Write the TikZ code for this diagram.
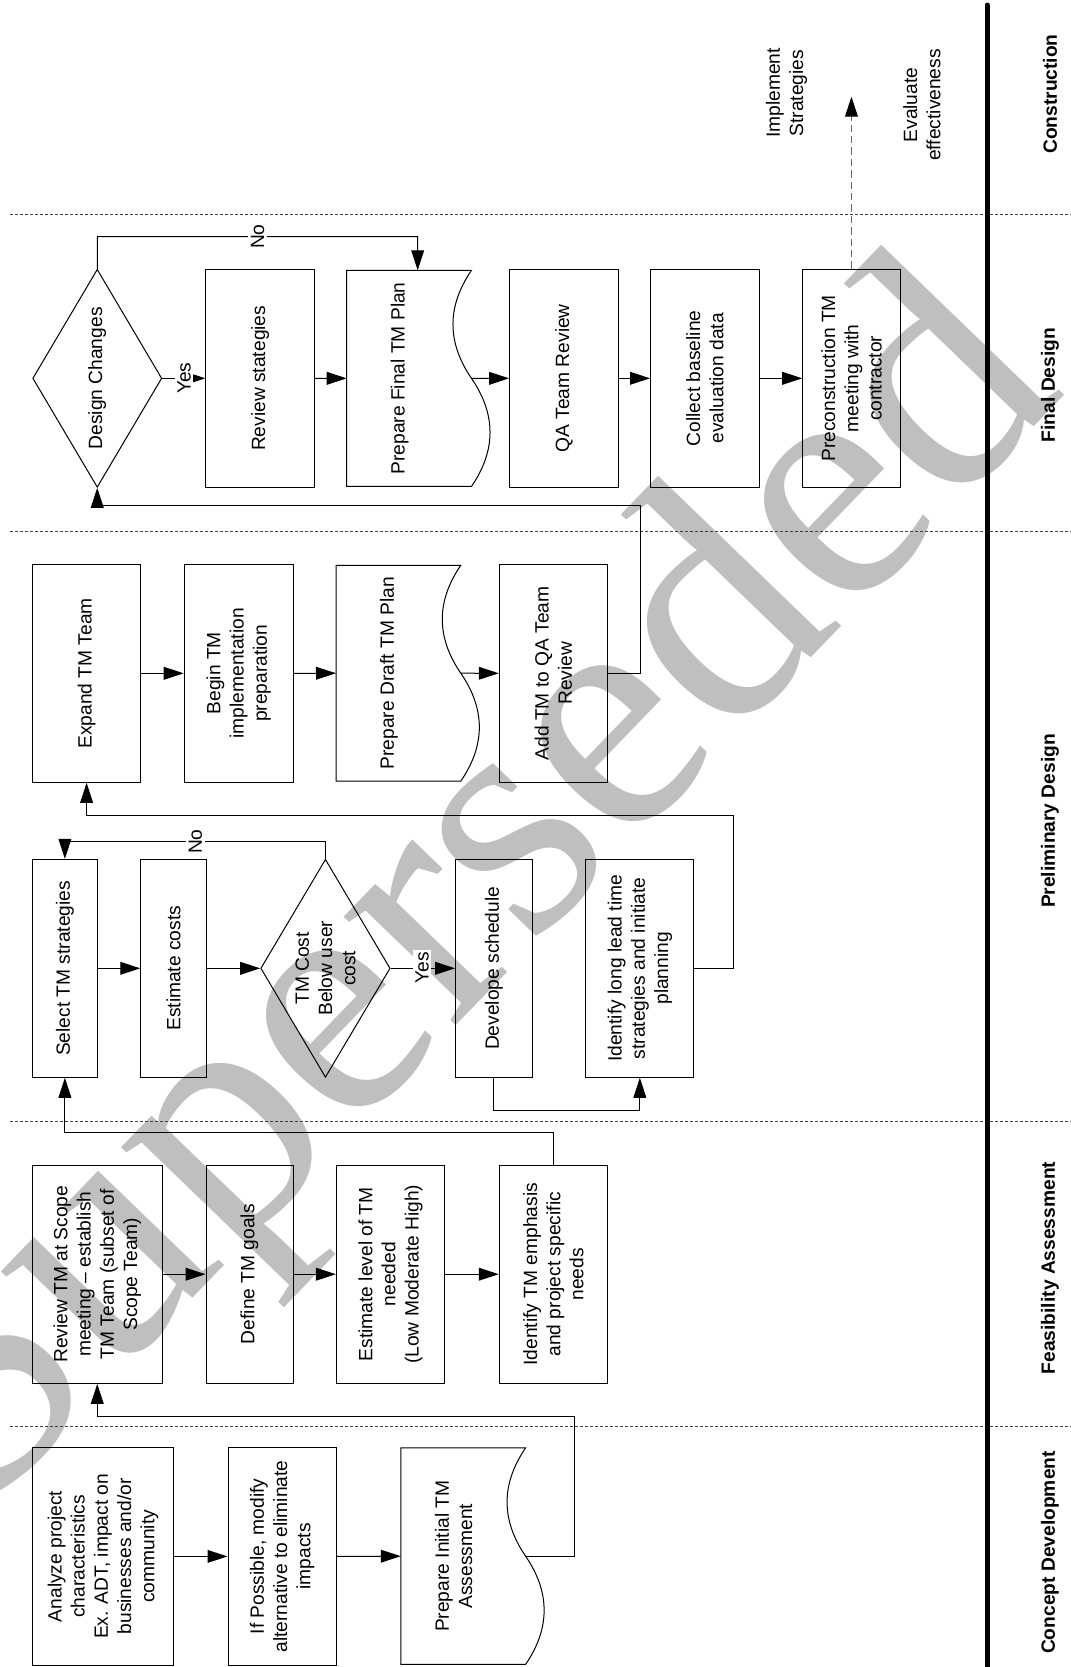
\documentclass[tikz,border=0pt]{standalone}
\usepackage{fontspec}
\setmainfont{Liberation Sans}
\newfontfamily\wmfont{Liberation Serif}
\usetikzlibrary{shapes.geometric,arrows.meta,calc}
\newcommand\docoutline[1]{%
  \draw[boxline] (#1.north west) -- (#1.north east) -- ($(#1.south east)+(19,0)$)
    .. controls ($(#1.south east)!0.1667!(#1.south west)+(-5.7,0)$) and ($(#1.south east)!0.3333!(#1.south west)+(-5.7,0)$)
    .. ($(#1.south east)!0.5!(#1.south west)+(19,0)$)
    .. controls ($(#1.south east)!0.6667!(#1.south west)+(43.7,0)$) and ($(#1.south east)!0.8333!(#1.south west)+(43.7,0)$)
    .. ($(#1.south west)+(19,0)$) -- cycle;}
\begin{document}
\begin{tikzpicture}[x=0.5pt,y=-0.5pt,
  every node/.style={font=\fontsize{9.6}{11.6}\selectfont},
  boxline/.style={draw=black, line width=0.5pt},
  sz/.style 2 args={minimum height={(#1)*0.5pt}, minimum width={(#2)*0.5pt}},
  box/.style={boxline, rectangle, rotate=90, inner sep=0pt, align=center},
  docbox/.style={rectangle, rotate=90, inner sep=0pt, align=center},
  dec/.style={boxline, diamond, rotate=90, inner sep=0pt, shape aspect=1.69, align=center},
  lbl/.style={fill=white, rotate=90, inner sep=1.2pt},
  free/.style={rotate=90, align=center, inner sep=0pt},
  phase/.style={rotate=90, font=\fontsize{9.6}{11.6}\selectfont\bfseries, inner sep=0pt},
  arr/.style={line width=0.5pt, -{Triangle[length=10pt,width=6.4pt]}},
  darr/.style={line width=0.6pt, draw=black!60, dash pattern=on 3.7pt off 2pt, -{Triangle[length=10pt,width=6.4pt,black]}},
  sep/.style={line width=0.5pt, draw=black!75, dash pattern=on 1.5pt off 1pt}
]
\useasboundingbox (0,0) rectangle (1071,1667);
\begin{scope}
\clip (0,0) rectangle (1071,1667);
\node[rotate=46, anchor=base east, text=black!25, inner sep=0pt,
  font=\wmfont\fontsize{170}{170}\selectfont] (wm) at (1068,392) {Superseded};
\end{scope}

% phase separators and axis
\coordinate (s1a) at (10,214.3);  \coordinate (s1b) at (1071,214.3);
\coordinate (s2a) at (10,531.7);  \coordinate (s2b) at (1071,531.7);
\coordinate (s3a) at (10,1121);   \coordinate (s3b) at (1071,1121);
\coordinate (s4a) at (10,1426.7); \coordinate (s4b) at (1071,1426.7);
\draw[sep] (s1a) -- (s1b);
\draw[sep] (s2a) -- (s2b);
\draw[sep] (s3a) -- (s3b);
\draw[sep] (s4a) -- (s4b);
\coordinate (axt) at (987,5); \coordinate (axb) at (987,1672);
\draw[line width=2.5pt, line cap=round] (axt) -- (axb);

% phase labels
\node[phase] (ph1) at (1050,94) {Construction};
\node[phase] (ph2) at (1050,385) {Final Design};
\node[phase] (ph3) at (1050,821) {Preliminary Design};
\node[phase] (ph4) at (1050,1268) {Feasibility Assessment};
\node[phase] (ph5) at (1050,1552.5) {Concept Development};

% Final design row
\node[dec, sz={129.1}{218}] (dm1) at (97.25,378.3) {Design Changes};
\node[box, sz={108.5}{218}] (rs) at (260.15,378.3) {Review stategies};
\node[docbox, sz={105}{215.3}] (pf) at (399.6,378.35) {Prepare Final TM Plan};
\docoutline{pf}
\node[box, sz={108.9}{218}] (qa) at (564.05,378.3) {QA Team Review};
\node[box, sz={108.8}{218}] (cb) at (704.9,378.3) {Collect baseline\\evaluation data};
\node[box, sz={97.5}{218}] (pc) at (851.45,378.3) {Preconstruction TM\\meeting with\\contractor};

% Construction texts
\node[free] (imp) at (786.5,93) {Implement\\Strategies};
\node[free] (eva) at (921.8,105) {Evaluate\\effectiveness};

% Preliminary upper row
\node[box, sz={107.8}{218}] (ex) at (86.6,673.3) {Expand TM Team};
\node[box, sz={108.8}{218}] (bg) at (238.6,673.3) {Begin TM\\implementation\\preparation};
\node[docbox, sz={105}{215}] (pd) at (388.9,673.2) {Prepare Draft TM Plan};
\docoutline{pd}
\node[box, sz={108.2}{218}] (aq) at (553.4,673.3) {Add TM to QA Team\\Review};

% Preliminary lower row
\node[box, sz={65.8}{218}] (sel) at (64.9,968.3) {Select TM strategies};
\node[box, sz={65.5}{218}] (ec) at (173.55,968.3) {Estimate costs};
\node[dec, sz={129.5}{218}] (dm2) at (325.45,968.3) {TM Cost\\Below user\\cost};
\node[box, sz={76.4}{218}] (ds) at (493.8,968.3) {Develope schedule};
\node[box, sz={108.1}{218}] (il) at (639.85,968.3) {Identify long lead time\\strategies and initiate\\planning};

% Feasibility row
\node[box, sz={130.5}{218.3}] (rv) at (97.25,1274.2) {Review TM at Scope\\meeting -- establish\\TM Team (subset of\\Scope Team)};
\node[box, sz={87}{218.3}] (dg) at (249.5,1274.2) {Define TM goals};
\node[box, sz={108.2}{218.3}] (el) at (390.5,1274.2) {Estimate level of TM\\needed\\(Low Moderate High)};
\node[box, sz={108.2}{218.3}] (ie) at (553.4,1274.2) {Identify TM emphasis\\and project specific\\needs};

% Concept row
\node[box, sz={140.5}{217.3}] (an1) at (102.95,1556.4) {Analyze project\\characteristics\\Ex. ADT, impact on\\businesses and/or\\community};
\node[box, sz={108.4}{217.3}] (an2) at (282.2,1556.4) {If Possible, modify\\alternative to eliminate\\impacts};
\node[docbox, sz={105}{215.7}] (pi) at (453.7,1556.15) {Prepare Initial TM\\Assessment};
\docoutline{pi}

% connector waypoints
\coordinate (c1) at (574.8,1416);
\coordinate (c2) at (300,1132.3);
\coordinate (c3) at (200,841.7);
\coordinate (c4) at (560,1110);
\coordinate (c5) at (733.9,815);
\coordinate (c6) at (640.2,505.7);
\coordinate (c7) at (851.45,96.7);
\coordinate (c8) at (417.7,236.7);

% connectors: concept
\draw[arr] (an1.south) -- (an2.north);
\draw[arr] (an2.south) -- (pi.north);
\draw[arr] ($(pi.south)+(19,0)$) -| (c1) -| (rv.west);
% feasibility
\draw[arr] (rv.south) -- (dg.north);
\draw[arr] (dg.south) -- (el.north);
\draw[arr] (el.south) -- (ie.north);
\draw[arr] (ie.east) |- (c2) -| (sel.west);
% preliminary lower
\draw[arr] (sel.south) -- (ec.north);
\draw[arr] (ec.south) -- (dm2.north);
\draw[arr] (dm2.south) -- (ds.north);
\draw[arr] (dm2.east) |- (c3) -| (sel.east);
\draw[arr] (ds.west) |- (c4) -| (il.west);
\draw[arr] (il.south) -| (c5) -| (ex.west);
% preliminary upper
\draw[arr] (ex.south) -- (bg.north);
\draw[arr] (bg.south) -- (pd.north);
\draw[arr] ($(pd.south)+(19,0)$) -- (aq.north);
\draw[arr] (aq.south) -| (c6) -| (dm1.west);
% final
\draw[arr] (dm1.south) -- (rs.north);
\draw[arr] (dm1.east) |- (c8) -- ($(pf.east)+(18.1,0)$);
\draw[arr] (rs.south) -- (pf.north);
\draw[arr] ($(pf.south)+(19,0)$) -- (qa.north);
\draw[arr] (qa.south) -- (cb.north);
\draw[arr] (cb.south) -- (pc.north);
\draw[darr] (pc.east) -- (c7);

% branch labels
\node[lbl] (y1) at (184,378.3) {Yes};
\node[lbl] (n1) at (257.5,236.7) {No};
\node[lbl] (y2) at (422,968) {Yes};
\node[lbl] (n2) at (195.4,841.7) {No};
\end{tikzpicture}
\end{document}
